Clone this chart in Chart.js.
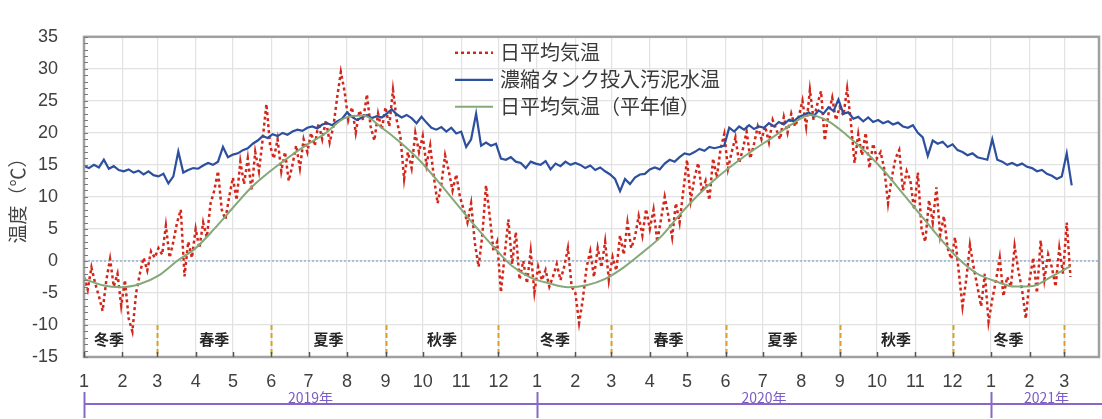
<!DOCTYPE html>
<html lang="ja">
<head>
<meta charset="utf-8">
<title>日平均気温と濃縮タンク投入汚泥水温</title>
<script src="https://cdn.jsdelivr.net/npm/chart.js@4.4.1/dist/chart.umd.min.js"></script>
<style>
  html, body { margin: 0; padding: 0; background: #ffffff; }
  #wrap { width: 1102px; height: 419px; }
</style>
</head>
<body>
<div id="wrap"><canvas id="chart" width="1102" height="419"></canvas></div>
<script>
// ---- period and sampling ---------------------------------------------
const periodStart = [2019, 1, 1];      // day 0
const axisEnd = [2021, 3, 29];         // right end of the time axis
const airStepDays = 3;                 // spacing of airTemp samples
const sludgeStepDays = 4;              // spacing of sludgeTemp samples
const normalStepDays = 15;             // spacing of normalTemp samples

// ---- series -----------------------------------------------------------
// 日平均気温 (°C)
const airTemp = [
  -2.5, -4.5, -1, -3.5, -5.5, -7.8, -3, 0.3, -4, -2, -7,
  -3, -9, -11, -5, -2, 0.5, -1.5, 1.5, 0.5,
  2, 1, 5.5, 0.5, 3, 6, 8, -2.4, 3, 0.5, 5,
  2, 6, 3.7, 9, 11, 14, 8, 6.5, 10, 13,
  9.5, 15.5, 12, 16, 11, 17, 14, 19, 24.5, 18,
  16, 19, 14, 17, 12.5, 15, 18, 14.5, 19, 17,
  20, 18, 21.5, 19, 22, 18.5, 21, 25.5, 29.5, 26.5,
  22, 24, 20, 23.5, 22, 26, 21, 18.8, 23, 20.5,
  24, 21, 26.7, 22, 19.4, 12.8, 17, 14.5, 20, 17,
  19.5, 15, 18, 13, 9, 12, 16.5, 14, 11, 13.5, 10,
  8, 6, 9, 2.8, -0.9, 4, 11.8, 7, 1.5, 3,
  -4.9, 0.9, 6.5, -0.5, 4.5, -2.9, 0, -3.5, 1.5, -4.9,
  -0.9, -3, -1.4, -4, -2.4, -0.5, -3, -0.9, 2, -4, -5,
  -9.7, -6, -1, 1.5, -2.5, 2, -1, 3, -3,
  0.6, -1.5, 4, 1, 6, 2, 3.7, 7, 4, 8.1,
  5, 8, 3, 6.5, 10, 7, 3.7, 9, 6, 11,
  15.8, 9.5, 13, 15.3, 10.8, 12.5, 9.5, 16, 13, 17.5, 19.8,
  14.4, 17, 19.3, 15.3, 17.5, 20.2, 16, 18.3, 21, 19,
  21, 18.5, 22, 20.5, 19, 22.5, 20, 23, 21, 22.5,
  25, 21, 26.7, 22, 24.5, 26.5, 18.8, 23, 25.5, 22,
  24, 22.7, 26.9, 21.7, 15.3, 19.8, 16.5, 20, 14.5, 18.3,
  16, 17, 14.3, 9, 13, 16, 17.3, 11, 14, 12.5, 8,
  13.8, 5, 3, 9.5, 6, 11.5, 4, 7, 2, 0.3,
  3.7, -1.7, -7.1, -2.9, 2.5, -1, -4, -7.1, -2, -9.5,
  -6, -3, 0.5, -5.5, -2.5, -4, 2.3, -1.5, -4.5, -9,
  -3, 0.5, -5, 3.2, -2.9, 1, -1, -4, 2, -2,
  6, -2.5
];

// 濃縮タンク投入汚泥水温 (°C)
const sludgeTemp = [
  14.8, 14.5, 15, 14.6, 15.8, 14.4, 14.8, 14.2,
  14.0, 14.3, 13.8, 14.1, 13.5, 14.0, 13.4,
  13.2, 13.6, 12.1, 13.2, 17.1, 13.8, 14.2, 14.5,
  14.4, 14.9, 15.3, 15.0, 15.5, 17.8, 16.2, 16.6,
  16.8, 17.3, 17.6, 18.3, 18.8, 19.5, 19.2,
  19.8, 19.5, 20.0, 19.7, 20.2, 20.5, 20.3, 20.8,
  21.0, 20.7, 21.3, 21.5, 21.2, 21.8, 22.2, 23.2,
  22.5, 22.0, 22.4, 22.8, 22.3, 22.6, 22.4,
  23.0, 23.7, 22.9, 22.4, 22.8, 22.3, 21.5, 22.5,
  21.6, 20.8, 20.5, 20.9, 20.2, 20.8, 19.9, 20.2,
  17.8, 19.0, 23.0, 18.0, 18.5, 18.0, 18.3,
  16.0, 15.8, 16.2, 15.5, 15.3, 14.5, 15.5, 15.2,
  15.0, 15.6, 14.3, 15.2, 14.8, 15.5, 15.0, 15.3,
  15.0, 14.5, 14.9, 14.2, 14.6, 14.0, 13.5,
  12.8, 10.9, 12.8, 12.0, 13.0, 13.5, 13.6, 14.3,
  14.6, 14.3, 15.2, 15.8, 15.5, 16.2, 16.8,
  16.6, 17.0, 17.5, 17.2, 17.8, 17.6, 17.8, 18.0,
  20.8, 20.2, 21.0, 20.5, 21.2, 20.6, 21.0, 20.8,
  21.5, 21.0, 21.7, 21.3, 22.0, 21.8, 22.5,
  22.8, 23.2, 22.6, 23.5, 23.0, 24.0, 23.4, 25.2,
  23.0, 23.2, 22.2, 22.5, 21.8, 22.4, 21.7,
  22.0, 21.5, 21.8, 21.3, 21.6, 21.0, 20.8, 21.2,
  20.0, 19.3, 16.4, 18.8, 18.3, 18.6, 17.8, 18.2,
  17.3, 17.0, 16.5, 16.8, 16.2, 16.0, 15.8,
  19.0, 15.8, 15.5, 15.0, 15.3, 14.9, 15.2, 14.7,
  14.5, 14.0, 14.2, 13.6, 13.3, 12.8, 13.2,
  16.8, 11.8
];

// 日平均気温（平年値） (°C)
const normalTemp = [
  -2.8, -3.8, -4.1, -3.6, -2.3, 0, 2.0, 5.0, 8.3, 11.5, 14.0, 16.2, 18.2,
  20.0, 22.3, 22.7, 20.8, 18.5, 15.8, 12.5, 9.0, 5.5, 2.2, -0.8, -2.6,
  -3.5, -4.1, -3.8, -2.8, -1.0, 1.3, 3.8, 7.2, 10.3, 13.0, 15.3, 17.4,
  19.3, 21.3, 22.8, 21.8, 19.6, 17.0, 14.0, 10.5, 7.0, 3.5, 0.3, -2.0,
  -3.2, -4.0, -3.9, -2.4, -0.8
];

// ---- labels -------------------------------------------------------------
const seriesNames = ['日平均気温', '濃縮タンク投入汚泥水温', '日平均気温（平年値）'];
const seriesColors = ['#d3261b', '#2c4f9e', '#84a877'];
const seasonNames = { 12: '冬季', 3: '春季', 6: '夏季', 9: '秋季' };
const yearSuffix = '年';
const yAxisTitle = '温度（℃）';
const yMin = -15, yMax = 35, yStep = 5;

// ---- helpers ----------------------------------------------------------
const DAY = 86400000;
const t0 = Date.UTC(periodStart[0], periodStart[1] - 1, periodStart[2]);
const dayOf = (y, m, d) => Math.round((Date.UTC(y, m - 1, d) - t0) / DAY);
const xMax = dayOf(axisEnd[0], axisEnd[1], axisEnd[2]);

// month starts inside the axis range -> tick positions and labels
const monthTicks = [];
for (let y = periodStart[0]; ; y++) {
  let done = false;
  for (let m = 1; m <= 12; m++) {
    const d = dayOf(y, m, 1);
    if (d > xMax) { done = true; break; }
    if (d >= 0) monthTicks.push({ value: d, month: m, year: y });
  }
  if (done) break;
}
const monthLabelOf = {};
monthTicks.forEach(t => { monthLabelOf[t.value] = String(t.month); });
const seasonStarts = monthTicks.filter(t => seasonNames[t.month]);
const yearStarts = monthTicks.filter(t => t.month === 1);

const toPoints = (arr, step) => arr.map((v, i) => ({ x: i * step, y: v }));

// ---- decorations --------------------------------------------------------
const JP = '"Noto Sans CJK JP", "Noto Sans", sans-serif';

function strokeLine(ctx, x1, y1, x2, y2) {
  ctx.beginPath(); ctx.moveTo(x1, y1); ctx.lineTo(x2, y2); ctx.stroke();
}

const decorPlugin = {
  id: 'decor',
  beforeDatasetsDraw(chart) {
    const { ctx, chartArea: a, scales: { x, y } } = chart;
    ctx.save();
    // zero line
    ctx.strokeStyle = '#a7c0da';
    ctx.lineWidth = 2;
    ctx.setLineDash([2, 2]);
    const y0 = y.getPixelForValue(0);
    strokeLine(ctx, a.left, y0, a.right, y0);
    // season boundaries
    ctx.strokeStyle = '#d9a41f';
    ctx.lineWidth = 2;
    ctx.setLineDash([5, 3]);
    const yTopSep = y.getPixelForValue(-10);
    seasonStarts.forEach(s => {
      const px = Math.round(x.getPixelForValue(s.value)) + 0.5;
      strokeLine(ctx, px, yTopSep, px, a.bottom);
    });
    ctx.restore();
  },
  afterDatasetsDraw(chart) {
    const { ctx, chartArea: a, scales: { x, y } } = chart;
    ctx.save();

    // season names, centred in each season span
    ctx.font = 'bold 15px ' + JP;
    ctx.fillStyle = '#262626';
    ctx.textAlign = 'center';
    ctx.textBaseline = 'middle';
    const yLab = y.getPixelForValue(-12.2);
    const bounds = [];
    // the first winter starts on 1 December of the previous year
    const first = seasonStarts[0];
    bounds.push({ value: dayOf(first.year - 1, 12, 1), month: 12 });
    seasonStarts.forEach(s => bounds.push(s));
    for (let i = 0; i < bounds.length - 1; i++) {
      const x1 = x.getPixelForValue(bounds[i].value);
      const x2 = x.getPixelForValue(bounds[i + 1].value);
      const cx = Math.max((x1 + x2) / 2, a.left + 25);
      ctx.fillText(seasonNames[bounds[i].month], cx, yLab);
    }

    // frame
    ctx.strokeStyle = '#a0a0a0';
    ctx.lineWidth = 2.5;
    ctx.strokeRect(a.left, a.top, a.right - a.left, a.bottom - a.top);

    // minor ticks on the value axis (every 1 °C), pointing inward
    ctx.strokeStyle = '#7a7a7a';
    ctx.lineWidth = 1;
    for (let v = yMin; v <= yMax; v++) {
      const py = Math.round(y.getPixelForValue(v)) + 0.5;
      strokeLine(ctx, a.left, py, a.left + 4, py);
    }
    // month ticks on the time axis, pointing inward
    ctx.strokeStyle = '#555555';
    ctx.lineWidth = 1.5;
    monthTicks.forEach(t => {
      const px = Math.round(x.getPixelForValue(t.value)) + 0.5;
      strokeLine(ctx, px, a.bottom, px, a.bottom - 5);
    });

    // legend
    const lx1 = 455, lx2 = 493, tx = 500;
    const rows = [a.top + 16, a.top + 43, a.top + 70];
    ctx.font = '20px ' + JP;
    ctx.textAlign = 'left';
    ctx.textBaseline = 'middle';
    chart.data.datasets.forEach((ds, i) => {
      const ry = rows[i];
      ctx.strokeStyle = ds.borderColor;
      ctx.lineWidth = ds.borderWidth;
      ctx.setLineDash(ds.borderDash || []);
      strokeLine(ctx, lx1, ry, lx2, ry);
      ctx.setLineDash([]);
      ctx.fillStyle = '#3a3a3a';
      ctx.fillText(ds.label, tx, ry);
    });
    ctx.restore();
  },
  afterDraw(chart) {
    const { ctx, chartArea: a, scales: { x }, width } = chart;
    ctx.save();
    // value axis title
    ctx.translate(18, 196);
    ctx.rotate(-Math.PI / 2);
    ctx.font = '19px ' + JP;
    ctx.fillStyle = '#444444';
    ctx.textAlign = 'center';
    ctx.textBaseline = 'middle';
    ctx.fillText(yAxisTitle, 0, 0);
    ctx.restore();

    // year bar
    ctx.save();
    const barY = 404;
    ctx.strokeStyle = '#8668c9';
    ctx.lineWidth = 2;
    strokeLine(ctx, a.left, barY, width, barY);
    const starts = yearStarts.map(t => x.getPixelForValue(t.value));
    starts.forEach(px => strokeLine(ctx, Math.round(px) + 0.5, barY - 12, Math.round(px) + 0.5, barY + 14));
    ctx.font = '14px ' + JP;
    ctx.fillStyle = '#7b5dc3';
    ctx.textAlign = 'center';
    ctx.textBaseline = 'bottom';
    yearStarts.forEach((t, i) => {
      const x1 = starts[i];
      const x2 = i + 1 < starts.length ? starts[i + 1] : width;
      ctx.fillText(t.year + yearSuffix, (x1 + x2) / 2, barY + 1);
    });
    ctx.restore();
  }
};

// ---- chart --------------------------------------------------------------
const tickFont = { family: '"Liberation Sans", Arial, sans-serif', size: 18 };

new Chart(document.getElementById('chart'), {
  type: 'line',
  data: {
    datasets: [
      {
        label: seriesNames[0],
        data: toPoints(airTemp, airStepDays),
        borderColor: seriesColors[0],
        borderWidth: 2.5,
        borderDash: [3, 3],
        pointRadius: 0,
        tension: 0,
        order: 2
      },
      {
        label: seriesNames[1],
        data: toPoints(sludgeTemp, sludgeStepDays),
        borderColor: seriesColors[1],
        borderWidth: 2.2,
        pointRadius: 0,
        tension: 0,
        order: 1
      },
      {
        label: seriesNames[2],
        data: toPoints(normalTemp, normalStepDays),
        borderColor: seriesColors[2],
        borderWidth: 2,
        pointRadius: 0,
        cubicInterpolationMode: 'monotone',
        order: 0
      }
    ]
  },
  options: {
    responsive: false,
    animation: false,
    events: [],
    layout: { padding: { top: 16, right: 3, left: 0, bottom: 0 } },
    plugins: { legend: { display: false }, tooltip: { enabled: false } },
    scales: {
      x: {
        type: 'linear',
        min: 0,
        max: xMax,
        afterBuildTicks(scale) { scale.ticks = monthTicks.map(t => ({ value: t.value })); },
        afterFit(scale) { scale.height = 62; },
        ticks: {
          autoSkip: false,
          maxRotation: 0,
          padding: 14,
          color: '#404040',
          font: tickFont,
          callback: v => monthLabelOf[v] ?? ''
        },
        grid: { color: '#e2e2e2', lineWidth: 1.2, drawTicks: false },
        border: { display: false }
      },
      y: {
        min: yMin,
        max: yMax,
        afterFit(scale) { scale.width = 84; },
        ticks: {
          stepSize: yStep,
          padding: 26,
          color: '#404040',
          font: tickFont
        },
        grid: { color: '#e2e2e2', lineWidth: 1.2, drawTicks: false },
        border: { display: false }
      }
    }
  },
  plugins: [decorPlugin]
});
</script>
</body>
</html>
